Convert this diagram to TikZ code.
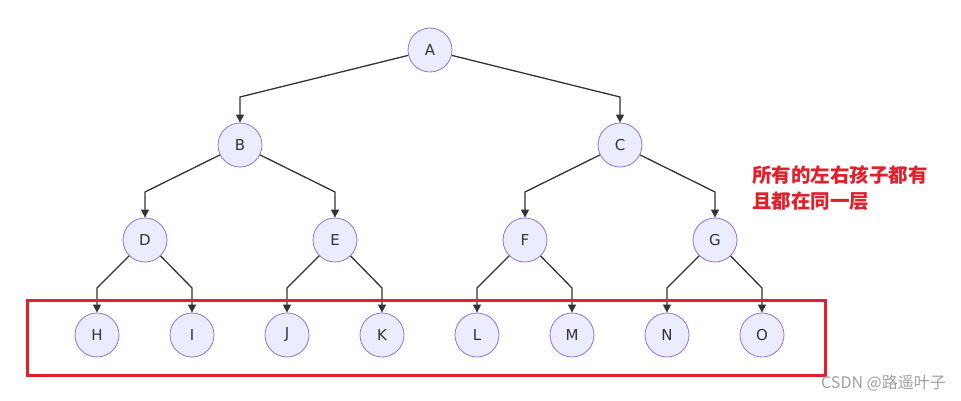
\documentclass[tikz,border=0pt]{standalone}
\usepackage{fontspec}
\setmainfont{DejaVu Sans}
\newfontfamily\cjk{Noto Sans CJK SC}
\newfontfamily\cjkheavy{Noto Sans CJK SC}[FakeBold=1.5]
\usetikzlibrary{arrows.meta}
\definecolor{nodefill}{HTML}{ECECFF}
\definecolor{nodeline}{HTML}{9370DB}
\definecolor{edgecol}{HTML}{333333}
\definecolor{boxred}{HTML}{E0202A}
\definecolor{wm}{HTML}{A0A0A0}
\begin{document}
\begin{tikzpicture}[x=1pt,y=-1pt,
  tnode/.style={circle,draw=nodeline,fill=nodefill,line width=0.8pt,minimum size=44pt,inner sep=0pt,font=\fontsize{15}{17}\selectfont,text=edgecol},
  edge/.style={draw=edgecol,line width=1.3pt,-{Triangle[length=8pt,width=8pt]}},
  hl/.style={draw=boxred,line width=3pt},
  note/.style={anchor=west,text=boxred,font=\cjk\bfseries\fontsize{19.5}{22}\selectfont,inner sep=0pt}]
\useasboundingbox (0,0) rectangle (961,401);
\fill[white] (0,0) rectangle (961,401);
\node[tnode] (A) at (430,50) {A};
\node[tnode] (B) at (240,145) {B};
\node[tnode] (C) at (620,145) {C};
\node[tnode] (D) at (145,240) {D};
\node[tnode] (E) at (335,240) {E};
\node[tnode] (F) at (525,240) {F};
\node[tnode] (G) at (715,240) {G};
\node[tnode] (H) at (97,335) {H};
\node[tnode] (I) at (192,335) {I};
\node[tnode] (J) at (287,335) {J};
\node[tnode] (K) at (382,335) {K};
\node[tnode] (L) at (477,335) {L};
\node[tnode] (M) at (572,335) {M};
\node[tnode] (N) at (667,335) {N};
\node[tnode] (O) at (762,335) {O};
% bends
\coordinate (bB) at (240,97);
\coordinate (bC) at (620,97);
\coordinate (bD) at (145,192);
\coordinate (bE) at (335,192);
\coordinate (bF) at (525,192);
\coordinate (bG) at (715,192);
\coordinate (bH) at (97,288);
\coordinate (bI) at (192,288);
\coordinate (bJ) at (287,288);
\coordinate (bK) at (382,288);
\coordinate (bL) at (477,288);
\coordinate (bM) at (572,288);
\coordinate (bN) at (667,288);
\coordinate (bO) at (762,288);
\draw[edge] (A) -- (bB) -- (B.north);
\draw[edge] (A) -- (bC) -- (C.north);
\draw[edge] (B) -- (bD) -- (D.north);
\draw[edge] (B) -- (bE) -- (E.north);
\draw[edge] (C) -- (bF) -- (F.north);
\draw[edge] (C) -- (bG) -- (G.north);
\draw[edge] (D) -- (bH) -- (H.north);
\draw[edge] (D) -- (bI) -- (I.north);
\draw[edge] (E) -- (bJ) -- (J.north);
\draw[edge] (E) -- (bK) -- (K.north);
\draw[edge] (F) -- (bL) -- (L.north);
\draw[edge] (F) -- (bM) -- (M.north);
\draw[edge] (G) -- (bN) -- (N.north);
\draw[edge] (G) -- (bO) -- (O.north);
% highlight box
\draw[hl] (27,300) rectangle (825,375);
\node[note] (t1) at (752,175) {所有的左右孩子都有};
\node[note] (t2) at (752,201) {且都在同一层};
\node[anchor=east,text=wm,font=\cjk\fontsize{16}{18}\selectfont,inner sep=0pt] (wmk) at (946,383) {CSDN @路遥叶子};
\end{tikzpicture}
\end{document}
